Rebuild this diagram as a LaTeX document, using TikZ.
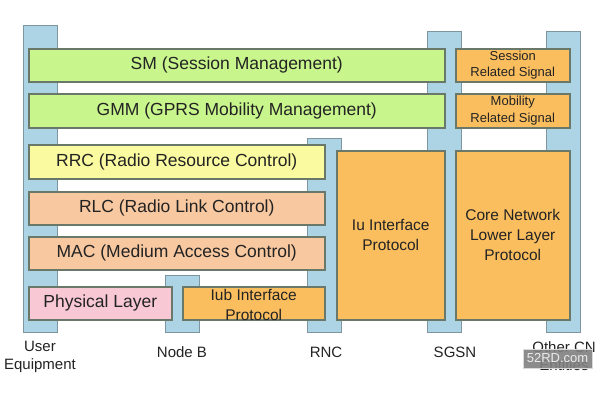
\documentclass[tikz,border=0pt]{standalone}
\usepackage{fontspec}
\setmainfont{Liberation Sans}
\definecolor{pillarblue}{RGB}{172,212,228}
\definecolor{pillarline}{RGB}{125,150,160}
\definecolor{barline}{RGB}{105,120,105}
\definecolor{lgreen}{RGB}{200,245,140}
\definecolor{lyellow}{RGB}{250,250,160}
\definecolor{lsalmon}{RGB}{248,200,160}
\definecolor{lorange}{RGB}{250,190,95}
\definecolor{lpink}{RGB}{248,200,212}
\definecolor{txt}{RGB}{35,35,35}
\begin{document}
\begin{tikzpicture}[x=1pt,y=-1pt,
  pillar/.style={draw=pillarline, fill=pillarblue, line width=1.3pt, inner sep=0, anchor=north west, minimum width=34pt},
  layerbox/.style={draw=barline, line width=1.5pt, inner sep=0, anchor=north west, text=txt, align=center},
  bigtext/.style={font=\fontsize{17.5}{20}\selectfont},
  midtext/.style={font=\fontsize{15.5}{20}\selectfont},
  smalltext/.style={font=\fontsize{13}{16.5}\selectfont},
  entity/.style={text=txt, font=\fontsize{15}{18.5}\selectfont, align=center, inner sep=0}]
\useasboundingbox (0,0) rectangle (600,400);
\fill[white] (0,0) rectangle (600,400);
% pillars
\node[pillar, minimum height=307pt] (ue) at (23,25) {};
\node[pillar, minimum height=57pt] (nodeb) at (165,275) {};
\node[pillar, minimum height=194pt] (rnc) at (307,138) {};
\node[pillar, minimum height=301pt] (sgsn) at (427,31) {};
\node[pillar, minimum height=301pt] (other) at (546,31) {};
% layers
\node[layerbox, bigtext, fill=lgreen, minimum width=416pt, minimum height=33pt] (sm) at (28,48) {SM (Session Management)};
\node[layerbox, bigtext, fill=lgreen, minimum width=416pt, minimum height=34pt] (gmm) at (28,93) {GMM (GPRS Mobility Management)};
\node[layerbox, bigtext, fill=lyellow, minimum width=296pt, minimum height=34pt] (rrc) at (28,144) {RRC (Radio Resource Control)};
\node[layerbox, bigtext, fill=lsalmon, minimum width=296pt, minimum height=33pt] (rlc) at (28,191) {RLC (Radio Link Control)};
\node[layerbox, bigtext, fill=lsalmon, minimum width=296pt, minimum height=33pt] (mac) at (28,236) {MAC (Medium Access Control)};
\node[layerbox, bigtext, fill=lpink, minimum width=143pt, minimum height=33pt] (phy) at (28,286) {Physical Layer};
\node[layerbox, fill=lorange, minimum width=142pt, minimum height=33pt] (iub) at (182,286) {};
\node[midtext, text=txt, align=center, inner sep=0] (iubt) at ([yshift=-2pt]iub.center) {Iub Interface\\Protocol};
\node[layerbox, midtext, fill=lorange, minimum width=108pt, minimum height=169pt] (iu) at (336,150) {Iu Interface\\Protocol};
\node[layerbox, midtext, fill=lorange, minimum width=114pt, minimum height=169pt] (cn) at (455,150) {Core Network\\Lower Layer\\Protocol};
\node[layerbox, smalltext, fill=lorange, minimum width=114pt, minimum height=33pt] (srs) at (455,48) {Session\\Related Signal};
\node[layerbox, smalltext, fill=lorange, minimum width=114pt, minimum height=34pt] (mrs) at (455,93) {Mobility\\Related Signal};
% entity labels
\node[entity] (uel) at (40,357) {User\\Equipment};
\node[entity] (nodebl) at (182,352) {Node B};
\node[entity] (rncl) at (326,352) {RNC};
\node[entity] (sgsnl) at (455,352) {SGSN};
\node[entity] (otherl) at (564,356) {Other CN\\Entities};
% watermark
\node[fill=gray, fill opacity=0.9, text opacity=1, text=white!85!gray, draw=white!70!gray, line width=0.6pt, font=\fontsize{13}{13}\selectfont, minimum width=69pt, minimum height=19pt, inner sep=0] (wm) at (557.5,358.5) {52RD.com};
\end{tikzpicture}
\end{document}
